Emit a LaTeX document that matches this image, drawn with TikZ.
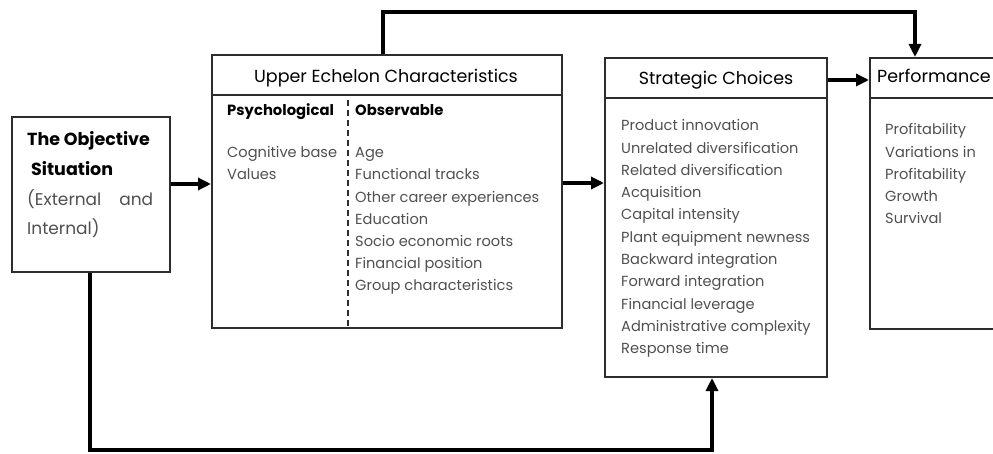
\documentclass[tikz,border=0pt]{standalone}
\usepackage{fontspec}
\setmainfont{Poppins}
\usetikzlibrary{arrows.meta}
\definecolor{boxcol}{RGB}{45,45,45}
\definecolor{itemgray}{RGB}{80,80,80}
\tikzset{
  box/.style={draw=boxcol, line width=2pt, rectangle, inner sep=0pt},
  conn/.style={draw=black, line width=3.2pt, -{Triangle[length=13pt,width=12pt]}},
  item/.style={anchor=mid west, inner sep=0pt, text=itemgray, font=\fontsize{14.6}{17}\selectfont},
  hdr/.style={inner sep=0pt, text=black, font=\fontsize{17.5}{19}\selectfont},
  sub/.style={anchor=mid west, inner sep=0pt, text=black, font=\bfseries\fontsize{14.8}{17}\selectfont},
}
\begin{document}
\begin{tikzpicture}[x=1pt,y=-1pt]
\useasboundingbox (0,0) rectangle (993,454);
\clip (0,0) rectangle (993,454);
% boxes
\node[box, minimum width=158pt, minimum height=155pt] (obj) at (91,194.5) {};
\node[box, minimum width=350pt, minimum height=273pt] (upper) at (387,191.5) {};
\node[box, minimum width=222pt, minimum height=319pt] (strat) at (716,217.5) {};
\node[box, minimum width=150pt, minimum height=271pt] (perf) at (945,193.5) {};
% header lines
\draw[boxcol, line width=2pt] (upper.west |- 0,95) -- (upper.east |- 0,95);
\draw[boxcol, line width=2pt] (strat.west |- 0,98) -- (strat.east |- 0,98);
\draw[boxcol, line width=2pt] (perf.west |- 0,98) -- (perf.east |- 0,98);
% dashed divider
\draw[boxcol, line width=1.5pt, dash pattern=on 6pt off 4pt] (348,100) -- (upper.south -| 348,0);
% objective text
\node[sub, font=\bfseries\fontsize{17.5}{19}\selectfont] (o1) at (27,143) {The Objective};
\node[sub, font=\bfseries\fontsize{17.5}{19}\selectfont] (o2) at (31,173) {Situation};
\node[item, font=\fontsize{17}{19}\selectfont, text width=126pt, align=left] (o3) at (27,203) {(External\hfill and};
\node[item, font=\fontsize{17}{19}\selectfont] (o4) at (27,232) {Internal)};
% headers
\node[hdr] (uh) at (386,78) {Upper Echelon Characteristics};
\node[hdr] (sh) at (716,80) {Strategic Choices};
\node[hdr, anchor=mid west] (ph) at (877,80) {Performance};
% upper echelon
\node[sub] (psy) at (227,113) {Psychological};
\node[sub] (obs) at (355,113) {Observable};
\node[item] (cb) at (227,155) {Cognitive base};
\node[item] (va) at (227,177) {Values};
\foreach \t [count=\i from 0] in {Age,Functional tracks,Other career experiences,Education,Socio economic roots,Financial position,Group characteristics}
  \node[item] (ob\i) at (355,155+22.2*\i) {\t};
% strategic choices
\foreach \t [count=\i from 0] in {Product innovation,Unrelated diversification,Related diversification,Acquisition,Capital intensity,Plant equipment newness,Backward integration,Forward integration,Financial leverage,Administrative complexity,Response time}
  \node[item] (sc\i) at (621,128+22.3*\i) {\t};
% performance
\foreach \t [count=\i from 0] in {Profitability,Variations in,Profitability,Growth,Survival}
  \node[item] (pf\i) at (885,132+22.3*\i) {\t};
% connectors
\draw[conn] (obj.east |- 0,184) -- (upper.west |- 0,184);
\draw[conn] (upper.east |- 0,183) -- (strat.west |- 0,183);
\draw[conn] (strat.east |- 0,80) -- (perf.west |- 0,80);
\draw[conn] (upper.north -| 383,0) -- (383,12) -- (915,12) -- (perf.north -| 915,0);
\draw[conn] (obj.south -| 90,0) -- (90,450) -- (712,450) -- (strat.south -| 712,0);
\end{tikzpicture}
\end{document}
